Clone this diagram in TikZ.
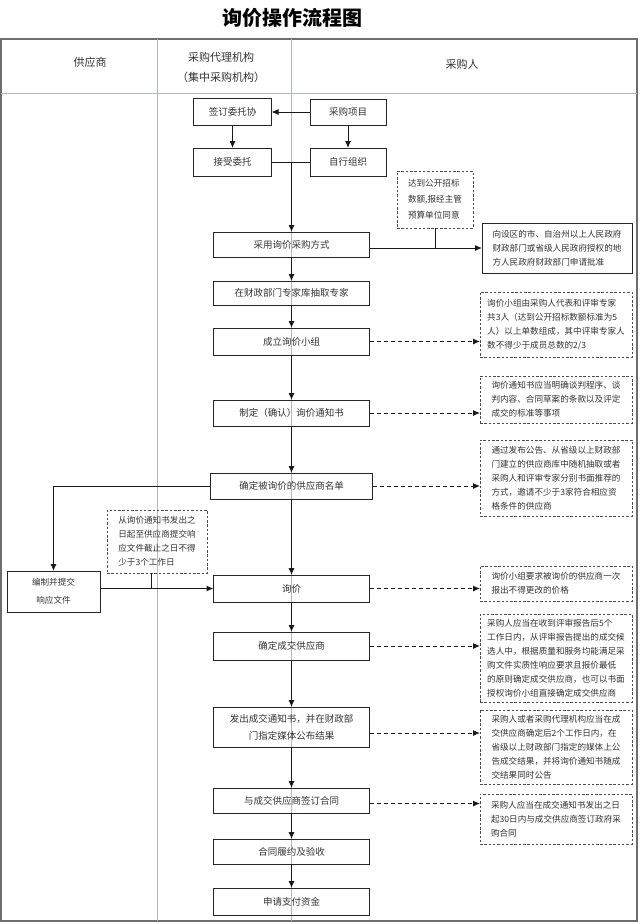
\documentclass[tikz,border=0pt]{standalone}
\usepackage{fontspec}
\setmainfont{Noto Sans CJK SC}
\usetikzlibrary{arrows.meta,positioning}
\definecolor{qjink}{HTML}{333333}
\definecolor{qjframe}{HTML}{6E6E6E}
\definecolor{qjlane}{HTML}{AEB9C4}
\tikzset{
  pbox/.style={draw=black!85,line width=1pt,minimum width=156pt,minimum height=26pt,
    inner sep=2pt,outer sep=0pt,align=center,font=\fontsize{9.5}{13}\selectfont,text=qjink},
  sbox/.style={pbox,minimum width=78pt,minimum height=27pt},
  nbox/.style={draw=black!70,line width=.9pt,dash pattern=on 2.5pt off 1.8pt,
    minimum width=152pt,inner xsep=6pt,inner ysep=3pt,outer sep=0pt,align=left,
    font=\fontsize{8.6}{14}\selectfont,text=qjink},
  flow/.style={-{Latex[length=7pt,width=6pt]},line width=1pt,draw=black!90},
  dflow/.style={flow,dash pattern=on 4pt off 3pt},
  joint/.style={line width=1pt,draw=black!90},
  lane/.style={draw=qjlane,line width=.8pt},
  headtxt/.style={font=\fontsize{11}{20}\selectfont,text=qjink,align=center}
}

\begin{document}
\begin{tikzpicture}[x=1pt,y=-1pt]
  \useasboundingbox (0,0) rectangle (640,924);
  \node[font=\bfseries\fontsize{20}{24}\selectfont] (title) at (292,18) {询价操作流程图};
  \draw[draw=qjframe,line width=1.2pt] (1,39) rectangle (637,921);
  \draw[lane] (1,93) -- (637,93);
  \draw[lane] (157,39) -- (157,921);
  \draw[lane] (291.5,39) -- (291.5,921);
  \node[headtxt] (hSupplier) at (90,62) {供应商};
  \node[headtxt] (hAgency) at (221,67) {采购代理机构\\（集中采购机构）};
  \node[headtxt] (hBuyer) at (462,64) {采购人};

  \node[sbox] (entrust) at (232.5,112) {签订委托协};
  \node[sbox,minimum width=76pt,minimum height=26pt] (project) at (348,112) {采购项目};
  \node[sbox,minimum height=28pt] (accept) at (232.5,162) {接受委托};
  \node[sbox,minimum width=76pt,minimum height=28pt] (selforg) at (348,162) {自行组织};
  \coordinate (merge) at (291.5,162);

  \node[pbox,minimum height=25pt] (adopt) at (291.5,244.5) {采用询价采购方式};
  \node[pbox,below=24pt of adopt,minimum height=24pt] (expert) {在财政部门专家库抽取专家};
  \node[pbox,below=23pt of expert,minimum height=27pt] (group) {成立询价小组};
  \node[pbox,below=45pt of group] (notice) {制定（确认）询价通知书};
  \node[pbox,below=47pt of notice,minimum width=162pt] (list) {确定被询价的供应商名单};
  \node[pbox,below=76pt of list,minimum height=27pt] (inquiry) {询价};
  \node[pbox,below=30pt of inquiry,minimum height=28pt] (decide) {确定成交供应商};
  \node[pbox,below=47pt of decide,minimum height=40pt,font=\fontsize{9.5}{17}\selectfont] (publish) {发出成交通知书，并在财政部\\门指定媒体公布结果};
  \node[pbox,below=41pt of publish,minimum height=25pt] (sign) {与成交供应商签订合同};
  \node[pbox,below=26pt of sign,minimum height=25pt] (perform) {合同履约及验收};
  \node[pbox,below=24pt of perform,minimum height=27pt] (pay) {申请支付资金};

  \node[nbox,minimum width=76pt,minimum height=57pt,font=\fontsize{8.6}{16}\selectfont] (nQuota) at (435,199.5) {达到公开招标\\数额,报经主管\\预算单位同意};
  \node[pbox,minimum width=150pt,minimum height=50pt,align=left,font=\fontsize{8.6}{14}\selectfont] (approve) at (557,248) {向设区的市、自治州以上人民政府\\财政部门或省级人民政府授权的地\\方人民政府财政部门申请批准};
  \node[nbox,minimum height=65pt] (nGroup) at (556,324.5) {询价小组由采购人代表和评审专家\\共3人（达到公开招标数额标准为5\\人）以上单数组成，其中评审专家人\\数不得少于成员总数的2/3};
  \node[nbox,minimum height=47pt] (nNotice) at (556,399.5) {询价通知书应当明确谈判程序、谈\\判内容、合同草案的条款以及评定\\成交的标准等事项};
  \node[nbox,minimum height=76pt] (nList) at (556,478) {通过发布公告、从省级以上财政部\\门建立的供应商库中随机抽取或者\\采购人和评审专家分别书面推荐的\\方式，邀请不少于3家符合相应资\\格条件的供应商};
  \node[nbox,minimum height=35pt] (nInquiry) at (556,583.5) {询价小组要求被询价的供应商一次\\报出不得更改的价格};
  \node[nbox,minimum height=88pt] (nDecide) at (556,658) {采购人应当在收到评审报告后5个\\工作日内，从评审报告提出的成交候\\选人中，根据质量和服务均能满足采\\购文件实质性响应要求且报价最低\\的原则确定成交供应商，也可以书面\\授权询价小组直接确定成交供应商};
  \node[nbox,minimum height=74pt] (nPublish) at (556,747) {采购人或者采购代理机构应当在成\\交供应商确定后2个工作日内，在\\省级以上财政部门指定的媒体上公\\告成交结果，并将询价通知书随成\\交结果同时公告};
  \node[nbox,minimum height=50pt] (nSign) at (556,819) {采购人应当在成交通知书发出之日\\起30日内与成交供应商签订政府采\\购合同};

  \node[nbox,minimum width=100pt,minimum height=63pt,inner xsep=5pt] (nDays) at (157,541.5) {从询价通知书发出之\\日起至供应商提交响\\应文件截止之日不得\\少于3个工作日};
  \node[pbox,minimum width=93pt,minimum height=41pt,font=\fontsize{8.6}{18}\selectfont] (respond) at (53.5,591.5) {编制并提交\\响应文件};

  \draw[flow] (project) -- (entrust);
  \draw[flow] (entrust) -- (accept);
  \draw[flow] (project) -- (selforg);
  \draw[joint] (accept) -- (selforg);
  \draw[flow] (merge) -- (adopt);
  \foreach \a/\b in {adopt/expert,expert/group,group/notice,notice/list,list/inquiry,
    inquiry/decide,decide/publish,publish/sign,sign/perform,perform/pay}
    \draw[flow] (\a) -- (\b);

  \draw[flow] (adopt.east |- approve.west) -- (approve.west);
  \draw[joint] (nQuota.south) -- (nQuota.south |- approve.west);
  \draw[dflow] (group.east) -- (group.east -| nGroup.west);
  \draw[dflow] (notice.east) -- (notice.east -| nNotice.west);
  \draw[dflow] (list.east) -- (list.east -| nList.west);
  \draw[dflow] (inquiry.east) -- (inquiry.east -| nInquiry.west);
  \draw[dflow] (decide.east) -- (decide.east -| nDecide.west);
  \draw[dflow] ([yshift=-6pt]publish.east) -- ([yshift=-6pt]publish.east -| nPublish.west);
  \draw[dflow] ([yshift=-3pt]sign.east) -- ([yshift=-3pt]sign.east -| nSign.west);

  \draw[flow] (list.west) -| (respond.north);
  \draw[flow] (respond.east |- inquiry.west) -- (inquiry.west);
  \draw[joint] ([xshift=-6pt]nDays.south) -- ([xshift=-6pt]nDays.south |- inquiry.west);
\end{tikzpicture}
\end{document}
